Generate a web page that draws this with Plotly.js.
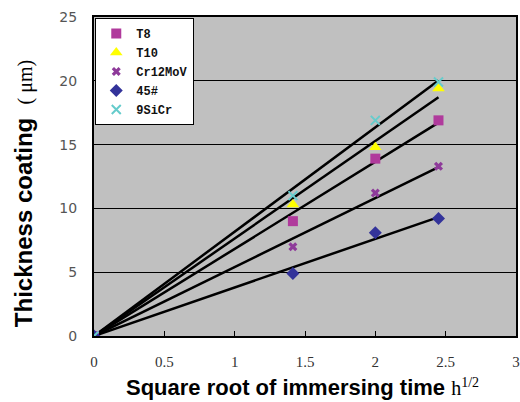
<!DOCTYPE html>
<html><head><meta charset="utf-8">
<script src="https://cdn.plot.ly/plotly-3.0.1.min.js"></script>
<style>body{margin:0;background:#fff}#c{width:520px;height:402px}</style>
</head><body><div id="c"></div>
<script>
const xVals = [0, 1.414, 2, 2.449];
const seriesNames = ["T8", "T10", "Cr12MoV", "45#", "9SiCr"];
const T8 = [0, 9.0, 13.9, 16.9];
const T10 = [0, 10.3, 14.8, 19.4];
const Cr12MoV = [0, 7.0, 11.2, 13.3];
const S45 = [0, 4.9, 8.1, 9.2];
const SiCr9 = [0, 11.0, 16.9, 19.9];
const xTicks = [0, 0.5, 1, 1.5, 2, 2.5, 3];
const yTicks = [0, 5, 10, 15, 20, 25];
const xTitle = '<b>Square root of immersing time</b> <span style="font-family:Liberation Serif;font-size:20px">h<sup>1/2</sup></span>';
const yTitle = '<b>Thickness coating</b>  <span style="font-family:Liberation Serif;font-size:20px">( μm)</span>';

const allY = [T8, T10, Cr12MoV, S45, SiCr9];
const colors = ["#b03a9c", "#ffff00", "#8e3a9a", "#33339a", "#66cccc"];
const symbols = ["square", "triangle-up", "x", "diamond", "x-thin"];
const sizes = [10, 11, 8, 10, 9];

const traces = [];
// fitted trend lines (least squares through origin)
allY.forEach((ys) => {
  let sxy = 0, sxx = 0;
  xVals.forEach((x, i) => { sxy += x * ys[i]; sxx += x * x; });
  const k = sxy / sxx;
  const xe = xVals[xVals.length - 1];
  traces.push({x: [0, xe], y: [0, k * xe], mode: 'lines', line: {color: '#000', width: 2.5}, showlegend: false, hoverinfo: 'skip'});
});
allY.forEach((ys, i) => {
  traces.push({x: xVals, y: ys, name: seriesNames[i], mode: 'markers',
    marker: {symbol: symbols[i], color: colors[i], size: sizes[i], line: {width: symbols[i]==='x-thin'?2:0, color: colors[i]}}});
});
// invisible helper trace so the overlay axis with inside ticks is drawn
traces.push({x: [xVals[0]], y: [T8[0]], xaxis: 'x2', mode: 'markers', marker: {opacity: 0}, showlegend: false, hoverinfo: 'skip'});

const layout = {
  width: 520, height: 402,
  margin: {l: 94, r: 4, t: 17, b: 66},
  paper_bgcolor: '#fff', plot_bgcolor: '#c0c0c0',
  showlegend: true,
  legend: {x: 0.003, y: 0.997, xanchor: 'left', yanchor: 'top', bgcolor: '#fff', bordercolor: '#000', borderwidth: 1,
    font: {family: 'Liberation Mono, DejaVu Sans Mono, monospace', size: 12, color: '#111', weight: 'bold'}, tracegroupgap: 0, itemwidth: 30},
  xaxis: {range: [0, 3], tickvals: xTicks, ticktext: xTicks.map(String), showgrid: false, zeroline: false,
    showline: true, linecolor: '#000', linewidth: 2, mirror: true, ticks: 'outside', ticklen: 11, tickcolor: 'rgba(0,0,0,0)',
    tickfont: {family: 'Liberation Serif, DejaVu Serif, serif', size: 15, color: '#333'}},
  xaxis2: {overlaying: 'x', anchor: 'y', side: 'bottom', range: [0, 3], tickvals: xTicks, showticklabels: false,
    showgrid: false, zeroline: false, showline: false, ticks: 'inside', ticklen: 5, tickcolor: '#000', tickwidth: 1},
  yaxis: {range: [0, 25], tickvals: yTicks, ticktext: yTicks.map(String), showgrid: true, gridcolor: '#000', gridwidth: 1,
    zeroline: false, showline: true, linecolor: '#000', linewidth: 2, mirror: true, ticks: '',
    ticklabelstandoff: 12,
    tickfont: {family: 'DejaVu Sans, sans-serif', size: 14, color: '#555'}},
  annotations: [
    {text: xTitle, xref: 'paper', yref: 'paper', x: 0.494, y: -0.163, xanchor: 'center', yanchor: 'middle', showarrow: false,
      font: {family: 'Liberation Sans, Arial, sans-serif', size: 22, color: '#000'}},
    {text: yTitle, xref: 'paper', yref: 'paper', x: -0.168, y: 0.445, xanchor: 'center', yanchor: 'middle', showarrow: false, textangle: -90,
      font: {family: 'Liberation Sans, Arial, sans-serif', size: 24, color: '#000'}}
  ]
};
Plotly.newPlot('c', traces, layout, {displayModeBar: false, staticPlot: true});
</script></body></html>
